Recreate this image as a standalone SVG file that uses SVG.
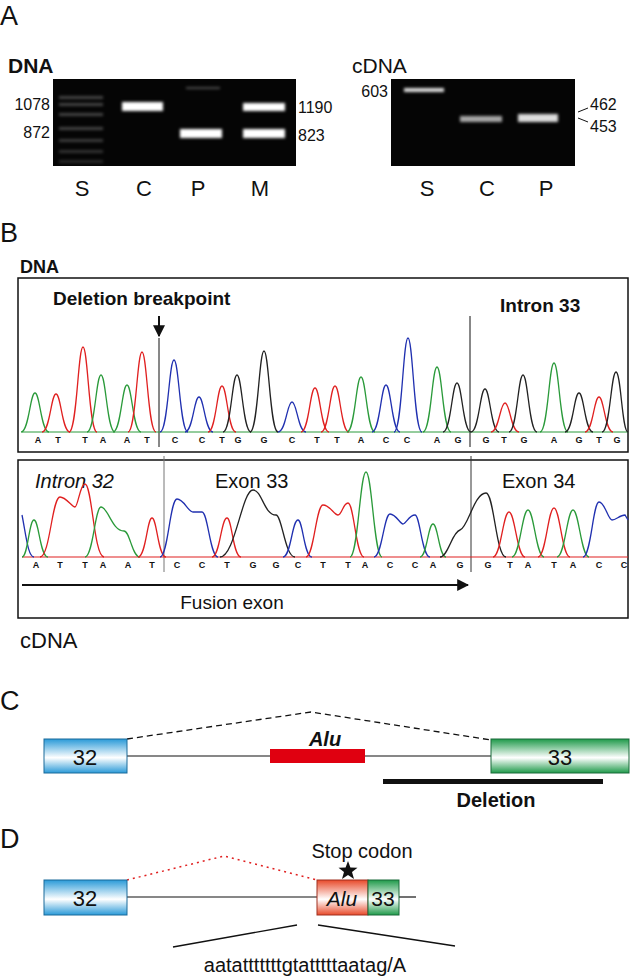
<svg xmlns="http://www.w3.org/2000/svg" width="630" height="978" viewBox="0 0 630 978">
<style>
text{font-family:"Liberation Sans",Arial,sans-serif;fill:#111}
.lab{font-size:27px}
.lane{font-size:22px}
.num{font-size:16px}
.hd{font-size:19px;font-weight:bold}
.seq{font-family:"Liberation Mono",monospace;font-size:9px;font-weight:bold}
.pk{fill:none;stroke-width:1.3}
.g{stroke:#2a9a3a}.r{stroke:#e02020}.b{stroke:#2030b0}.k{stroke:#222}
.box{fill:none;stroke:#111;stroke-width:1.5}
</style>
<defs>
<filter id="blur" x="-30%" y="-100%" width="160%" height="300%"><feGaussianBlur stdDeviation="1.8"/></filter>
<linearGradient id="gb" x1="0" y1="0" x2="0" y2="1"><stop offset="0" stop-color="#2a9ad8"/><stop offset="0.55" stop-color="#ffffff"/><stop offset="1" stop-color="#2a9ad8"/></linearGradient>
<linearGradient id="gg" x1="0" y1="0" x2="0" y2="1"><stop offset="0" stop-color="#1f9a4a"/><stop offset="0.55" stop-color="#ffffff"/><stop offset="1" stop-color="#1f9a4a"/></linearGradient>
<linearGradient id="gr" x1="0" y1="0" x2="0" y2="1"><stop offset="0" stop-color="#e84a2a"/><stop offset="0.55" stop-color="#ffffff"/><stop offset="1" stop-color="#e84a2a"/></linearGradient>
<marker id="ah" viewBox="0 0 10 10" refX="9" refY="5" markerWidth="6" markerHeight="6" orient="auto"><path d="M0,0 L10,5 L0,10 Z" fill="#111"/></marker>
</defs>

<g id="panelA">
<text class="lab" x="0" y="25">A</text>
<text x="8" y="73" style="font-size:21px;font-weight:bold">DNA</text>
<rect x="53" y="79" width="243" height="87" fill="#050505"/>
<g filter="url(#blur)" fill="#bbb">
<rect x="59" y="96" width="44" height="3" opacity="0.35"/><rect x="59" y="103" width="44" height="3" opacity="0.35"/>
<rect x="59" y="113" width="44" height="3" opacity="0.35"/><rect x="59" y="127" width="44" height="3" opacity="0.35"/>
<rect x="59" y="139" width="44" height="3" opacity="0.3"/><rect x="59" y="150" width="44" height="3" opacity="0.25"/>
<rect x="59" y="160" width="44" height="3" opacity="0.2"/>
<rect x="122" y="102" width="41" height="9" fill="#fff"/>
<rect x="180" y="129" width="42" height="9" fill="#fff"/>
<rect x="243" y="103" width="42" height="8" fill="#fff"/>
<rect x="243" y="129" width="42" height="9" fill="#fff"/>
<rect x="186" y="87" width="34" height="2" opacity="0.4"/>
</g>
<text class="num" x="50" y="110" text-anchor="end">1078</text>
<text class="num" x="50" y="138" text-anchor="end">872</text>
<text class="num" x="298" y="113">1190</text>
<text class="num" x="298" y="141">823</text>
<text class="lane" x="82" y="196" text-anchor="middle">S</text>
<text class="lane" x="144" y="196" text-anchor="middle">C</text>
<text class="lane" x="198" y="196" text-anchor="middle">P</text>
<text class="lane" x="260" y="196" text-anchor="middle">M</text>

<text x="352" y="73" style="font-size:21px">cDNA</text>
<rect x="391" y="79" width="184" height="87" fill="#050505"/>
<g filter="url(#blur)" fill="#ddd">
<rect x="404" y="88" width="40" height="4"/>
<rect x="460" y="116" width="42" height="6" opacity="0.75"/>
<rect x="518" y="114" width="40" height="8"/>
</g>
<text class="num" x="388" y="97" text-anchor="end">603</text>
<text class="num" x="590" y="110">462</text>
<text class="num" x="590" y="132">453</text>
<path d="M578,112 L588,108 M578,118 L588,122" stroke="#111" stroke-width="1"/>
<text class="lane" x="427" y="196" text-anchor="middle">S</text>
<text class="lane" x="487" y="196" text-anchor="middle">C</text>
<text class="lane" x="546" y="196" text-anchor="middle">P</text>
</g>

<g id="panelB">
<text class="lab" x="0" y="242">B</text>
<text x="20" y="273" style="font-size:18px;font-weight:bold">DNA</text>
<rect class="box" x="18" y="278" width="610" height="174"/>
<text x="53" y="305" class="hd">Deletion breakpoint</text>
<text x="500" y="312" class="hd">Intron 33</text>
<line x1="159" y1="316" x2="159" y2="336" stroke="#111" stroke-width="2" marker-end="url(#ah)"/>
<line x1="159" y1="338" x2="159" y2="447" stroke="#111" stroke-width="1"/>
<line x1="470" y1="316" x2="470" y2="447" stroke="#111" stroke-width="1"/>
<line x1="22" y1="432" x2="628" y2="432" stroke="#2a9a3a" stroke-width="1"/>
<g id="peaks1">
<path class="pk g" d="M21,432 C29,432 30,393 35,393 C40,393 41,432 49,432"/>
<path class="pk r" d="M42,432 C50,432 51,394 56,394 C61,394 62,432 70,432"/>
<path class="pk r" d="M69,432 C77,432 78,347 83,347 C88,347 89,432 97,432"/>
<path class="pk g" d="M87,432 C95,432 96,375 101,375 C106,375 107,432 115,432"/>
<path class="pk g" d="M113,432 C121,432 122,385 127,385 C132,385 133,432 141,432"/>
<path class="pk r" d="M128,432 C136,432 137,352 142,352 C147,352 148,432 156,432"/>
<path class="pk b" d="M160,432 C168,432 169,360 174,360 C179,360 180,432 188,432"/>
<path class="pk b" d="M185,432 C193,432 194,397 199,397 C204,397 205,432 213,432"/>
<path class="pk r" d="M208,432 C216,432 217,386 222,386 C227,386 228,432 236,432"/>
<path class="pk k" d="M223,432 C231,432 232,375 237,375 C242,375 243,432 251,432"/>
<path class="pk k" d="M250,432 C258,432 259,351 264,351 C269,351 270,432 278,432"/>
<path class="pk b" d="M278,432 C286,432 287,402 292,402 C297,402 298,432 306,432"/>
<path class="pk r" d="M301,432 C309,432 310,388 315,388 C320,388 321,432 329,432"/>
<path class="pk r" d="M321,432 C329,432 330,386 335,386 C340,386 341,432 349,432"/>
<path class="pk g" d="M347,432 C355,432 356,377 361,377 C366,377 367,432 375,432"/>
<path class="pk b" d="M372,432 C380,432 381,385 386,385 C391,385 392,432 400,432"/>
<path class="pk b" d="M394,432 C402,432 403,338 408,338 C413,338 414,432 422,432"/>
<path class="pk g" d="M423,432 C431,432 432,367 437,367 C442,367 443,432 451,432"/>
<path class="pk k" d="M443,432 C451,432 452,383 457,383 C462,383 463,432 471,432"/>
<path class="pk k" d="M471,432 C479,432 480,389 485,389 C490,389 491,432 499,432"/>
<path class="pk r" d="M491,432 C499,432 500,403 505,403 C510,403 511,432 519,432"/>
<path class="pk k" d="M509,432 C517,432 518,375 523,375 C528,375 529,432 537,432"/>
<path class="pk g" d="M540,432 C548,432 549,363 554,363 C559,363 560,432 568,432"/>
<path class="pk k" d="M565,432 C573,432 574,393 579,393 C584,393 585,432 593,432"/>
<path class="pk r" d="M585,432 C593,432 594,397 599,397 C604,397 605,432 613,432"/>
<path class="pk k" d="M602,432 C610,432 611,372 616,372 C621,372 622,432 628,432"/>
</g>
<g class="seq">
<text x="38" y="443" fill="#2a9a3a" text-anchor="middle">A</text><text x="58" y="443" fill="#e02020" text-anchor="middle">T</text><text x="85" y="443" fill="#e02020" text-anchor="middle">T</text><text x="103" y="443" fill="#2a9a3a" text-anchor="middle">A</text><text x="127" y="443" fill="#2a9a3a" text-anchor="middle">A</text><text x="147" y="443" fill="#e02020" text-anchor="middle">T</text>
<text x="175" y="443" fill="#2030b0" text-anchor="middle">C</text><text x="202" y="443" fill="#2030b0" text-anchor="middle">C</text><text x="222" y="443" fill="#e02020" text-anchor="middle">T</text><text x="238" y="443" fill="#222" text-anchor="middle">G</text><text x="264" y="443" fill="#222" text-anchor="middle">G</text><text x="292" y="443" fill="#2030b0" text-anchor="middle">C</text><text x="317" y="443" fill="#e02020" text-anchor="middle">T</text><text x="337" y="443" fill="#e02020" text-anchor="middle">T</text><text x="361" y="443" fill="#2a9a3a" text-anchor="middle">A</text><text x="386" y="443" fill="#2030b0" text-anchor="middle">C</text><text x="407" y="443" fill="#2030b0" text-anchor="middle">C</text><text x="437" y="443" fill="#2a9a3a" text-anchor="middle">A</text><text x="458" y="443" fill="#222" text-anchor="middle">G</text>
<text x="486" y="443" fill="#222" text-anchor="middle">G</text><text x="504" y="443" fill="#e02020" text-anchor="middle">T</text><text x="524" y="443" fill="#222" text-anchor="middle">G</text><text x="554" y="443" fill="#2a9a3a" text-anchor="middle">A</text><text x="579" y="443" fill="#222" text-anchor="middle">G</text><text x="599" y="443" fill="#e02020" text-anchor="middle">T</text><text x="617" y="443" fill="#222" text-anchor="middle">G</text>
</g>

<rect class="box" x="18" y="460" width="610" height="158"/>
<text x="35" y="488" class="hd" font-style="italic" style="font-size:20px;font-weight:normal">Intron 32</text>
<text x="215" y="488" style="font-size:20px">Exon 33</text>
<text x="502" y="488" style="font-size:20px">Exon 34</text>
<line x1="164" y1="456" x2="164" y2="572" stroke="#777" stroke-width="1"/>
<line x1="471" y1="456" x2="471" y2="572" stroke="#333" stroke-width="1"/>
<line x1="22" y1="557" x2="628" y2="557" stroke="#e02020" stroke-width="1.2"/>
<g id="peaks2">
<path class="pk b" d="M22,515 C26,535 28,557 34,557"/>
<path class="pk g" d="M22,557 C28,557 29,520 34,520 C39,520 40,557 48,557"/>
<path class="pk r" d="M40,557 C50,557 52,497 60,497 C66,497 72,507 75,507 C78,507 80,484 85,484 C92,484 94,557 104,557"/>
<path class="pk g" d="M85,557 C93,557 95,507 101,507 C108,507 112,531 124,531 C130,531 132,557 140,557"/>
<path class="pk r" d="M138,557 C146,557 147,518 152,518 C157,518 158,557 166,557"/>
<path class="pk b" d="M160,557 C168,557 170,499 177,499 C184,499 188,512 193,512 C196,512 198,512 202,512 C208,512 210,557 218,557"/>
<path class="pk r" d="M212,557 C220,557 221,518 227,518 C232,518 233,557 241,557"/>
<path class="pk k" d="M220,557 C235,557 242,490 253,490 C262,490 264,515 276,515 C282,515 285,557 295,557"/>
<path class="pk b" d="M283,557 C291,557 292,520 298,520 C303,520 304,557 312,557"/>
<path class="pk r" d="M306,557 C314,557 316,505 323,505 C330,505 334,515 338,515 C342,515 343,503 348,503 C354,503 356,557 364,557"/>
<path class="pk g" d="M350,557 C358,557 360,472 366,472 C372,472 374,557 382,557"/>
<path class="pk b" d="M374,557 C382,557 384,514 390,514 C396,514 400,524 403,524 C406,524 409,515 415,515 C420,515 422,557 430,557"/>
<path class="pk g" d="M420,557 C427,557 428,524 433,524 C438,524 439,557 446,557"/>
<path class="pk k" d="M440,557 C448,557 452,532 460,530 C468,528 474,493 486,493 C494,493 496,557 506,557"/>
<path class="pk r" d="M493,557 C501,557 503,512 509,512 C515,512 517,557 525,557"/>
<path class="pk g" d="M512,557 C520,557 522,510 528,510 C534,510 536,557 544,557"/>
<path class="pk r" d="M538,557 C546,557 548,508 554,508 C560,508 562,557 570,557"/>
<path class="pk g" d="M557,557 C565,557 567,510 573,510 C579,510 581,557 589,557"/>
<path class="pk b" d="M583,557 C591,557 593,502 599,502 C605,502 608,520 612,520 C616,520 620,515 625,515 L628,520"/>
</g>
<g class="seq">
<text x="36" y="568" fill="#2a9a3a" text-anchor="middle">A</text><text x="60" y="568" fill="#e02020" text-anchor="middle">T</text><text x="85" y="568" fill="#e02020" text-anchor="middle">T</text><text x="103" y="568" fill="#2a9a3a" text-anchor="middle">A</text><text x="128" y="568" fill="#2a9a3a" text-anchor="middle">A</text><text x="152" y="568" fill="#e02020" text-anchor="middle">T</text>
<text x="177" y="568" fill="#2030b0" text-anchor="middle">C</text><text x="202" y="568" fill="#2030b0" text-anchor="middle">C</text><text x="227" y="568" fill="#e02020" text-anchor="middle">T</text><text x="253" y="568" fill="#222" text-anchor="middle">G</text><text x="276" y="568" fill="#222" text-anchor="middle">G</text><text x="298" y="568" fill="#2030b0" text-anchor="middle">C</text><text x="323" y="568" fill="#e02020" text-anchor="middle">T</text><text x="348" y="568" fill="#e02020" text-anchor="middle">T</text><text x="365" y="568" fill="#2a9a3a" text-anchor="middle">A</text><text x="390" y="568" fill="#2030b0" text-anchor="middle">C</text><text x="415" y="568" fill="#2030b0" text-anchor="middle">C</text><text x="433" y="568" fill="#2a9a3a" text-anchor="middle">A</text><text x="460" y="568" fill="#222" text-anchor="middle">G</text>
<text x="488" y="568" fill="#222" text-anchor="middle">G</text><text x="510" y="568" fill="#e02020" text-anchor="middle">T</text><text x="528" y="568" fill="#2a9a3a" text-anchor="middle">A</text><text x="554" y="568" fill="#e02020" text-anchor="middle">T</text><text x="573" y="568" fill="#2a9a3a" text-anchor="middle">A</text><text x="599" y="568" fill="#2030b0" text-anchor="middle">C</text><text x="624" y="568" fill="#2030b0" text-anchor="middle">C</text>
</g>
<line x1="22" y1="585" x2="468" y2="585" stroke="#111" stroke-width="2" marker-end="url(#ah)"/>
<text x="232" y="609" text-anchor="middle" style="font-size:19px">Fusion exon</text>
<text x="20" y="648" style="font-size:22px">cDNA</text>
</g>

<g id="panelC">
<text class="lab" x="0" y="710">C</text>
<path d="M127,739 L311,712 L491,740" fill="none" stroke="#111" stroke-width="1.3" stroke-dasharray="6,4"/>
<line x1="127" y1="756" x2="491" y2="756" stroke="#111" stroke-width="1.2"/>
<rect x="270" y="749" width="95" height="14" fill="#e00010"/>
<text x="325" y="746" text-anchor="middle" style="font-size:20px;font-style:italic;font-weight:bold">Alu</text>
<g id="c32"><rect x="44" y="739" width="83" height="34" fill="url(#gb)" stroke="#1a6a9a"/><text x="85" y="765" text-anchor="middle" style="font-size:22px">32</text></g>
<g id="c33"><rect x="491" y="739" width="138" height="34" fill="url(#gg)" stroke="#1a6a3a"/><text x="560" y="765" text-anchor="middle" style="font-size:22px">33</text></g>
<rect x="383" y="779" width="220" height="5" fill="#111"/>
<text x="496" y="807" text-anchor="middle" style="font-size:20px;font-weight:bold">Deletion</text>
</g>

<g id="panelD">
<text class="lab" x="0" y="848">D</text>
<path d="M127,880 L224,856 L317,880" fill="none" stroke="#e02020" stroke-width="1.5" stroke-dasharray="2,4"/>
<line x1="127" y1="897" x2="317" y2="897" stroke="#111" stroke-width="1.2"/>
<line x1="399" y1="897" x2="416" y2="897" stroke="#111" stroke-width="1.2"/>
<g id="d32"><rect x="44" y="880" width="83" height="35" fill="url(#gb)" stroke="#1a6a9a"/><text x="85" y="906" text-anchor="middle" style="font-size:22px">32</text></g>
<g id="dalu"><rect x="317" y="880" width="51" height="35" fill="url(#gr)" stroke="#a03020"/><text x="342" y="906" text-anchor="middle" style="font-size:21px;font-style:italic">Alu</text></g>
<g id="d33"><rect x="368" y="880" width="31" height="35" fill="url(#gg)" stroke="#1a6a3a"/><text x="383" y="906" text-anchor="middle" style="font-size:21px">33</text></g>
<path d="M348,861 L350.4,867.5 L357.5,867.7 L352,872 L354,879 L348,875 L342,879 L344,872 L338.5,867.7 L345.6,867.5 Z" fill="#111"/>
<text x="362" y="858" text-anchor="middle" style="font-size:20px">Stop codon</text>
<path d="M173,947 L297,925 M318,925 L455,946" stroke="#111" stroke-width="1.3" fill="none"/>
<text x="305" y="972" text-anchor="middle" style="font-size:20px">aatatttttttgtatttttaatag/A</text>
</g>
</svg>
